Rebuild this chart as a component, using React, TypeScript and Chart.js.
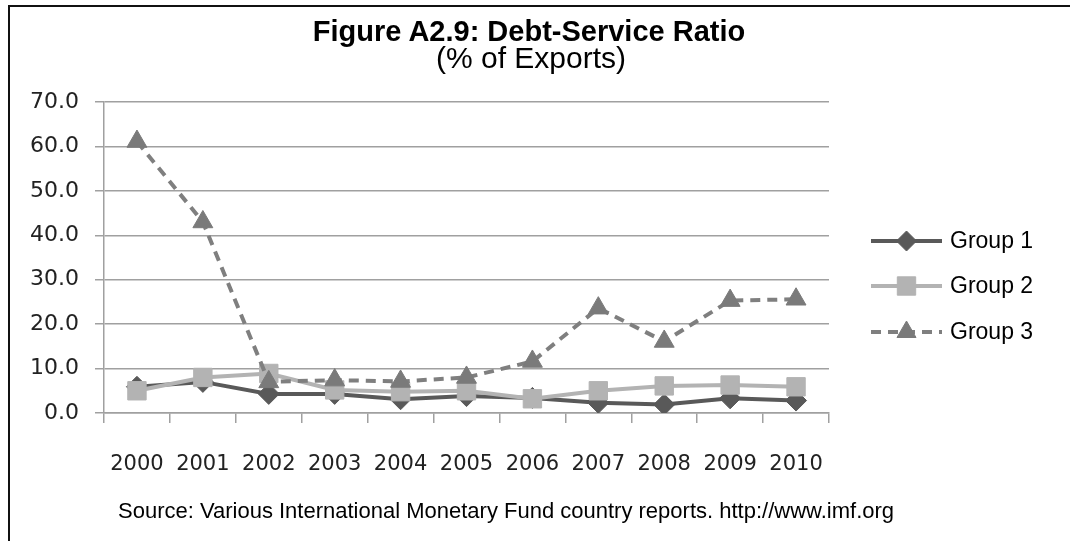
import React, { useEffect, useRef } from "react";
import { Chart, registerables } from "chart.js";
import { drawPoint } from "chart.js/helpers";

Chart.register(...registerables);

const years = ["2000", "2001", "2002", "2003", "2004", "2005", "2006", "2007", "2008", "2009", "2010"];
const group1 = [5.9, 7.0, 4.3, 4.3, 3.1, 3.8, 3.4, 2.3, 1.9, 3.3, 2.8];
const group2 = [5.0, 8.0, 8.9, 5.2, 4.8, 5.0, 3.2, 5.0, 6.1, 6.3, 5.9];
const group3 = [61.1, 43.0, 7.0, 7.4, 7.1, 8.0, 11.6, 23.6, 16.1, 25.3, 25.6];
const seriesNames = ["Group 1", "Group 2", "Group 3"];
const yTicks = [0, 10, 20, 30, 40, 50, 60, 70];

const titleText = "Figure A2.9: Debt-Service Ratio";
const subtitleText = "(% of Exports)";
const sourceText = "Source: Various International Monetary Fund country reports. http://www.imf.org";

const legendPlugin = {
  id: "sideLegend",
  afterDraw(chart: any) {
    const ctx = chart.ctx;
    const x0 = 871;
    const x1 = 942;
    const rows = [241, 286, 332];
    chart.data.datasets.forEach((ds: any, i: number) => {
      const y = rows[i];
      ctx.save();
      ctx.strokeStyle = ds.borderColor;
      ctx.lineWidth = ds.borderWidth;
      ctx.setLineDash(ds.borderDash || []);
      ctx.lineCap = "butt";
      ctx.beginPath();
      ctx.moveTo(x0, y);
      ctx.lineTo(x1, y);
      ctx.stroke();
      ctx.setLineDash([]);
      ctx.fillStyle = ds.pointBackgroundColor;
      ctx.strokeStyle = ds.pointBorderColor;
      ctx.lineWidth = 1;
      drawPoint(ctx, { pointStyle: ds.pointStyle, rotation: 0, borderWidth: 1, radius: ds.legendRadius }, (x0 + x1) / 2, y);
      ctx.fillStyle = "#000";
      ctx.font = "23px 'Liberation Sans', Arial, sans-serif";
      ctx.textBaseline = "middle";
      ctx.textAlign = "left";
      ctx.fillText(ds.label, 950, y + 1);
      ctx.restore();
    });
  },
};

export default function App() {
  const canvasRef = useRef<HTMLCanvasElement | null>(null);

  useEffect(() => {
    if (!canvasRef.current) return;
    const chart = new Chart(canvasRef.current, {
      type: "line",
      data: {
        labels: years,
        datasets: [
          {
            label: seriesNames[0],
            data: group1,
            order: 2,
            borderColor: "#595959",
            backgroundColor: "#595959",
            borderWidth: 4,
            pointStyle: "rectRot",
            pointRadius: 10.5,
            pointBackgroundColor: "#595959",
            pointBorderColor: "#595959",
            pointBorderWidth: 1,
            tension: 0,
            legendRadius: 10,
          } as any,
          {
            label: seriesNames[1],
            data: group2,
            order: 1,
            borderColor: "#b3b3b3",
            backgroundColor: "#b3b3b3",
            borderWidth: 4,
            pointStyle: "rect",
            pointRadius: 13,
            pointBackgroundColor: "#b3b3b3",
            pointBorderColor: "#b3b3b3",
            pointBorderWidth: 1,
            tension: 0,
            legendRadius: 13,
          } as any,
          {
            label: seriesNames[2],
            data: group3,
            order: 0,
            borderColor: "#7f7f7f",
            backgroundColor: "#7f7f7f",
            borderWidth: 4,
            borderDash: [10, 7],
            pointStyle: "triangle",
            pointRadius: 11.5,
            pointBackgroundColor: "#7a7a7a",
            pointBorderColor: "#7a7a7a",
            pointBorderWidth: 1,
            tension: 0,
            legendRadius: 11,
          } as any,
        ],
      },
      options: {
        responsive: false,
        animation: false,
        layout: { padding: { left: 10, top: 102, right: 241, bottom: 28 } },
        plugins: {
          legend: { display: false },
          title: { display: false },
          tooltip: { enabled: false },
        },
        scales: {
          x: {
            type: "category",
            offset: true,
            grid: {
              offset: true,
              drawOnChartArea: false,
              drawTicks: true,
              tickLength: 10,
              color: "#a0a0a0",
              lineWidth: 1.5,
            },
            border: { display: true, color: "#a0a0a0", width: 1.5 },
            ticks: {
              color: "#222",
              font: { family: "'DejaVu Sans', Verdana, sans-serif", size: 21 },
              padding: 29,
              maxRotation: 0,
              autoSkip: false,
            },
            afterFit(scale: any) {
              scale.height = 100;
            },
          },
          y: {
            min: 0,
            max: 70,
            afterBuildTicks(scale: any) {
              scale.ticks = yTicks.map((v) => ({ value: v }));
            },
            grid: {
              color: "#a0a0a0",
              lineWidth: 1.5,
              tickLength: 9,
              drawTicks: true,
            },
            border: { display: true, color: "#a0a0a0", width: 1.5 },
            ticks: {
              color: "#222",
              font: { family: "'DejaVu Sans', Verdana, sans-serif", size: 22 },
              padding: 16,
              callback: (v: any) => Number(v).toFixed(1),
            },
            afterFit(scale: any) {
              scale.width = 94;
            },
          },
        },
      },
      plugins: [legendPlugin],
    });
    return () => chart.destroy();
  }, []);

  return (
    <div style={{ position: "fixed", left: 0, top: 0, width: 1070, height: 541, background: "#fff", overflow: "hidden" }}>
      <div
        style={{
          position: "absolute",
          left: 8,
          top: 5,
          width: 1100,
          height: 600,
          borderLeft: "2px solid #111",
          borderTop: "2px solid #111",
          boxSizing: "border-box",
        }}
      />
      <canvas ref={canvasRef} width={1070} height={541} style={{ position: "absolute", left: 0, top: 0 }} />
      <div
        style={{
          position: "absolute",
          left: 0,
          width: 1058,
          top: 14,
          textAlign: "center",
          fontFamily: "'Liberation Sans', Arial, sans-serif",
          fontWeight: "bold",
          fontSize: 29,
          lineHeight: "34px",
          color: "#000",
        }}
      >
        {titleText}
      </div>
      <div
        style={{
          position: "absolute",
          left: 0,
          width: 1062,
          top: 41,
          textAlign: "center",
          fontFamily: "'Liberation Sans', Arial, sans-serif",
          fontSize: 30,
          lineHeight: "34px",
          color: "#000",
        }}
      >
        {subtitleText}
      </div>
      <div
        style={{
          position: "absolute",
          left: 118,
          top: 497,
          fontFamily: "'Liberation Sans', Arial, sans-serif",
          fontSize: 22,
          lineHeight: "28px",
          color: "#000",
          whiteSpace: "nowrap",
        }}
      >
        {sourceText}
      </div>
    </div>
  );
}
